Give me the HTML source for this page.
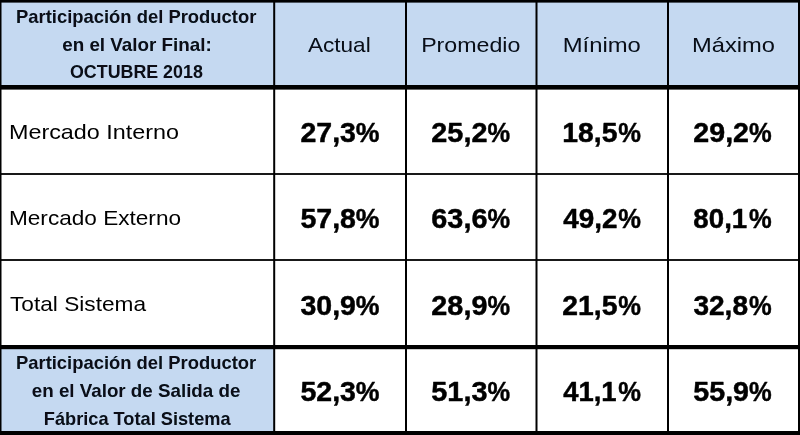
<!DOCTYPE html>
<html><head><meta charset="utf-8"><title>Tabla</title>
<style>
html,body{margin:0;padding:0;background:#fff;}
body{width:800px;height:435px;overflow:hidden;}
svg{display:block;}
text{font-family:"Liberation Sans",sans-serif;}
.b{font-weight:bold;}
</style></head><body>
<svg width="800" height="435" viewBox="0 0 800 435">
<defs><filter id="sf" x="0" y="0" width="800" height="435" filterUnits="userSpaceOnUse"><feGaussianBlur stdDeviation="0.3"/></filter></defs>
<rect x="0" y="0" width="800" height="435" fill="#fff"/>
<rect x="0" y="0" width="800" height="87" fill="#c5d9f1"/>
<rect x="0" y="347" width="274" height="88" fill="#c5d9f1"/>
<rect x="0" y="0" width="800" height="2.6" fill="#000"/>
<rect x="0" y="431" width="800" height="4" fill="#000"/>
<rect x="0" y="0" width="1.5" height="435" fill="#000"/>
<rect x="798" y="0" width="2" height="435" fill="#000"/>
<rect x="0" y="85" width="800" height="4.6" fill="#000"/>
<rect x="0" y="345" width="800" height="4.2" fill="#000"/>
<rect x="0" y="173.1" width="800" height="1.8" fill="#000"/>
<rect x="0" y="259.1" width="800" height="1.8" fill="#000"/>
<rect x="273.2" y="0" width="2" height="435" fill="#000"/>
<rect x="405.0" y="0" width="2" height="435" fill="#000"/>
<rect x="535.5" y="0" width="2" height="435" fill="#000"/>
<rect x="667.0" y="0" width="2" height="435" fill="#000"/>
<g filter="url(#sf)">
<text class="b" x="15.98" y="22.60" font-size="17.62" fill="#070b16" textLength="240.43" lengthAdjust="spacingAndGlyphs">Participación del Productor</text>
<text class="b" x="62.19" y="50.90" font-size="17.62" fill="#070b16" textLength="149.63" lengthAdjust="spacingAndGlyphs">en el Valor Final:</text>
<text class="b" x="69.99" y="78.20" font-size="17.83" fill="#070b16" textLength="132.82" lengthAdjust="spacingAndGlyphs">OCTUBRE 2018</text>
<text x="307.97" y="51.70" font-size="20.49" fill="#070b16" textLength="62.68" lengthAdjust="spacingAndGlyphs">Actual</text>
<text x="421.15" y="51.80" font-size="20.49" fill="#070b16" textLength="99.28" lengthAdjust="spacingAndGlyphs">Promedio</text>
<text x="562.75" y="51.80" font-size="20.49" fill="#070b16" textLength="78.10" lengthAdjust="spacingAndGlyphs">Mínimo</text>
<text x="692.12" y="51.80" font-size="20.49" fill="#070b16" textLength="82.91" lengthAdjust="spacingAndGlyphs">Máximo</text>
<text x="8.96" y="138.60" font-size="20.34" fill="#000" textLength="170.05" lengthAdjust="spacingAndGlyphs">Mercado Interno</text>
<text x="8.97" y="225.00" font-size="20.34" fill="#000" textLength="172.06" lengthAdjust="spacingAndGlyphs">Mercado Externo</text>
<text x="10.00" y="311.30" font-size="20.34" fill="#000" textLength="136.01" lengthAdjust="spacingAndGlyphs">Total Sistema</text>
<text class="b" stroke="#000" stroke-width="0.45" stroke-linejoin="round" x="300.49" y="141.75" font-size="26.79" fill="#000" textLength="55.44" lengthAdjust="spacingAndGlyphs">27,3</text>
<text class="b" stroke="#000" stroke-width="0.45" stroke-linejoin="round" x="355.84" y="141.75" font-size="26.86" fill="#000" textLength="23.73" lengthAdjust="spacingAndGlyphs">%</text>
<text class="b" stroke="#000" stroke-width="0.45" stroke-linejoin="round" x="431.37" y="141.75" font-size="26.79" fill="#000" textLength="56.05" lengthAdjust="spacingAndGlyphs">25,2</text>
<text class="b" stroke="#000" stroke-width="0.45" stroke-linejoin="round" x="487.39" y="141.75" font-size="26.86" fill="#000" textLength="22.61" lengthAdjust="spacingAndGlyphs">%</text>
<text class="b" stroke="#000" stroke-width="0.45" stroke-linejoin="round" x="562.36" y="141.75" font-size="26.79" fill="#000" textLength="55.08" lengthAdjust="spacingAndGlyphs">18,5</text>
<text class="b" stroke="#000" stroke-width="0.45" stroke-linejoin="round" x="618.35" y="141.75" font-size="26.86" fill="#000" textLength="22.70" lengthAdjust="spacingAndGlyphs">%</text>
<text class="b" stroke="#000" stroke-width="0.45" stroke-linejoin="round" x="693.36" y="141.75" font-size="26.79" fill="#000" textLength="55.67" lengthAdjust="spacingAndGlyphs">29,2</text>
<text class="b" stroke="#000" stroke-width="0.45" stroke-linejoin="round" x="748.95" y="141.75" font-size="26.86" fill="#000" textLength="22.70" lengthAdjust="spacingAndGlyphs">%</text>
<text class="b" stroke="#000" stroke-width="0.45" stroke-linejoin="round" x="300.49" y="228.00" font-size="26.79" fill="#000" textLength="55.44" lengthAdjust="spacingAndGlyphs">57,8</text>
<text class="b" stroke="#000" stroke-width="0.45" stroke-linejoin="round" x="355.84" y="228.00" font-size="26.86" fill="#000" textLength="23.73" lengthAdjust="spacingAndGlyphs">%</text>
<text class="b" stroke="#000" stroke-width="0.45" stroke-linejoin="round" x="431.37" y="228.00" font-size="26.79" fill="#000" textLength="56.05" lengthAdjust="spacingAndGlyphs">63,6</text>
<text class="b" stroke="#000" stroke-width="0.45" stroke-linejoin="round" x="487.39" y="228.00" font-size="26.86" fill="#000" textLength="22.61" lengthAdjust="spacingAndGlyphs">%</text>
<text class="b" stroke="#000" stroke-width="0.45" stroke-linejoin="round" x="563.20" y="228.00" font-size="26.79" fill="#000" textLength="54.21" lengthAdjust="spacingAndGlyphs">49,2</text>
<text class="b" stroke="#000" stroke-width="0.45" stroke-linejoin="round" x="618.35" y="228.00" font-size="26.86" fill="#000" textLength="22.70" lengthAdjust="spacingAndGlyphs">%</text>
<text class="b" stroke="#000" stroke-width="0.45" stroke-linejoin="round" x="693.38" y="228.00" font-size="26.79" fill="#000" textLength="53.83" lengthAdjust="spacingAndGlyphs">80,1</text>
<text class="b" stroke="#000" stroke-width="0.45" stroke-linejoin="round" x="748.95" y="228.00" font-size="26.86" fill="#000" textLength="22.70" lengthAdjust="spacingAndGlyphs">%</text>
<text class="b" stroke="#000" stroke-width="0.45" stroke-linejoin="round" x="300.50" y="314.75" font-size="26.79" fill="#000" textLength="55.44" lengthAdjust="spacingAndGlyphs">30,9</text>
<text class="b" stroke="#000" stroke-width="0.45" stroke-linejoin="round" x="355.84" y="314.75" font-size="26.86" fill="#000" textLength="23.73" lengthAdjust="spacingAndGlyphs">%</text>
<text class="b" stroke="#000" stroke-width="0.45" stroke-linejoin="round" x="431.37" y="314.75" font-size="26.79" fill="#000" textLength="56.05" lengthAdjust="spacingAndGlyphs">28,9</text>
<text class="b" stroke="#000" stroke-width="0.45" stroke-linejoin="round" x="487.39" y="314.75" font-size="26.86" fill="#000" textLength="22.61" lengthAdjust="spacingAndGlyphs">%</text>
<text class="b" stroke="#000" stroke-width="0.45" stroke-linejoin="round" x="562.36" y="314.75" font-size="26.79" fill="#000" textLength="55.06" lengthAdjust="spacingAndGlyphs">21,5</text>
<text class="b" stroke="#000" stroke-width="0.45" stroke-linejoin="round" x="618.35" y="314.75" font-size="26.86" fill="#000" textLength="22.70" lengthAdjust="spacingAndGlyphs">%</text>
<text class="b" stroke="#000" stroke-width="0.45" stroke-linejoin="round" x="693.40" y="314.75" font-size="26.79" fill="#000" textLength="54.62" lengthAdjust="spacingAndGlyphs">32,8</text>
<text class="b" stroke="#000" stroke-width="0.45" stroke-linejoin="round" x="748.95" y="314.75" font-size="26.86" fill="#000" textLength="22.70" lengthAdjust="spacingAndGlyphs">%</text>
<text class="b" stroke="#000" stroke-width="0.45" stroke-linejoin="round" x="300.49" y="401.25" font-size="26.79" fill="#000" textLength="55.44" lengthAdjust="spacingAndGlyphs">52,3</text>
<text class="b" stroke="#000" stroke-width="0.45" stroke-linejoin="round" x="355.84" y="401.25" font-size="26.86" fill="#000" textLength="23.73" lengthAdjust="spacingAndGlyphs">%</text>
<text class="b" stroke="#000" stroke-width="0.45" stroke-linejoin="round" x="431.37" y="401.25" font-size="26.79" fill="#000" textLength="56.05" lengthAdjust="spacingAndGlyphs">51,3</text>
<text class="b" stroke="#000" stroke-width="0.45" stroke-linejoin="round" x="487.39" y="401.25" font-size="26.86" fill="#000" textLength="22.61" lengthAdjust="spacingAndGlyphs">%</text>
<text class="b" stroke="#000" stroke-width="0.45" stroke-linejoin="round" x="563.19" y="401.25" font-size="26.79" fill="#000" textLength="53.41" lengthAdjust="spacingAndGlyphs">41,1</text>
<text class="b" stroke="#000" stroke-width="0.45" stroke-linejoin="round" x="618.35" y="401.25" font-size="26.86" fill="#000" textLength="22.70" lengthAdjust="spacingAndGlyphs">%</text>
<text class="b" stroke="#000" stroke-width="0.45" stroke-linejoin="round" x="693.36" y="401.25" font-size="26.79" fill="#000" textLength="55.67" lengthAdjust="spacingAndGlyphs">55,9</text>
<text class="b" stroke="#000" stroke-width="0.45" stroke-linejoin="round" x="748.95" y="401.25" font-size="26.86" fill="#000" textLength="22.70" lengthAdjust="spacingAndGlyphs">%</text>
<text class="b" x="15.98" y="369.10" font-size="17.62" fill="#070b16" textLength="240.22" lengthAdjust="spacingAndGlyphs">Participación del Productor</text>
<text class="b" x="31.79" y="396.80" font-size="17.62" fill="#070b16" textLength="208.61" lengthAdjust="spacingAndGlyphs">en el Valor de Salida de</text>
<text class="b" x="43.79" y="424.70" font-size="17.62" fill="#070b16" textLength="186.81" lengthAdjust="spacingAndGlyphs">Fábrica Total Sistema</text>
</g>
</svg>
</body></html>
